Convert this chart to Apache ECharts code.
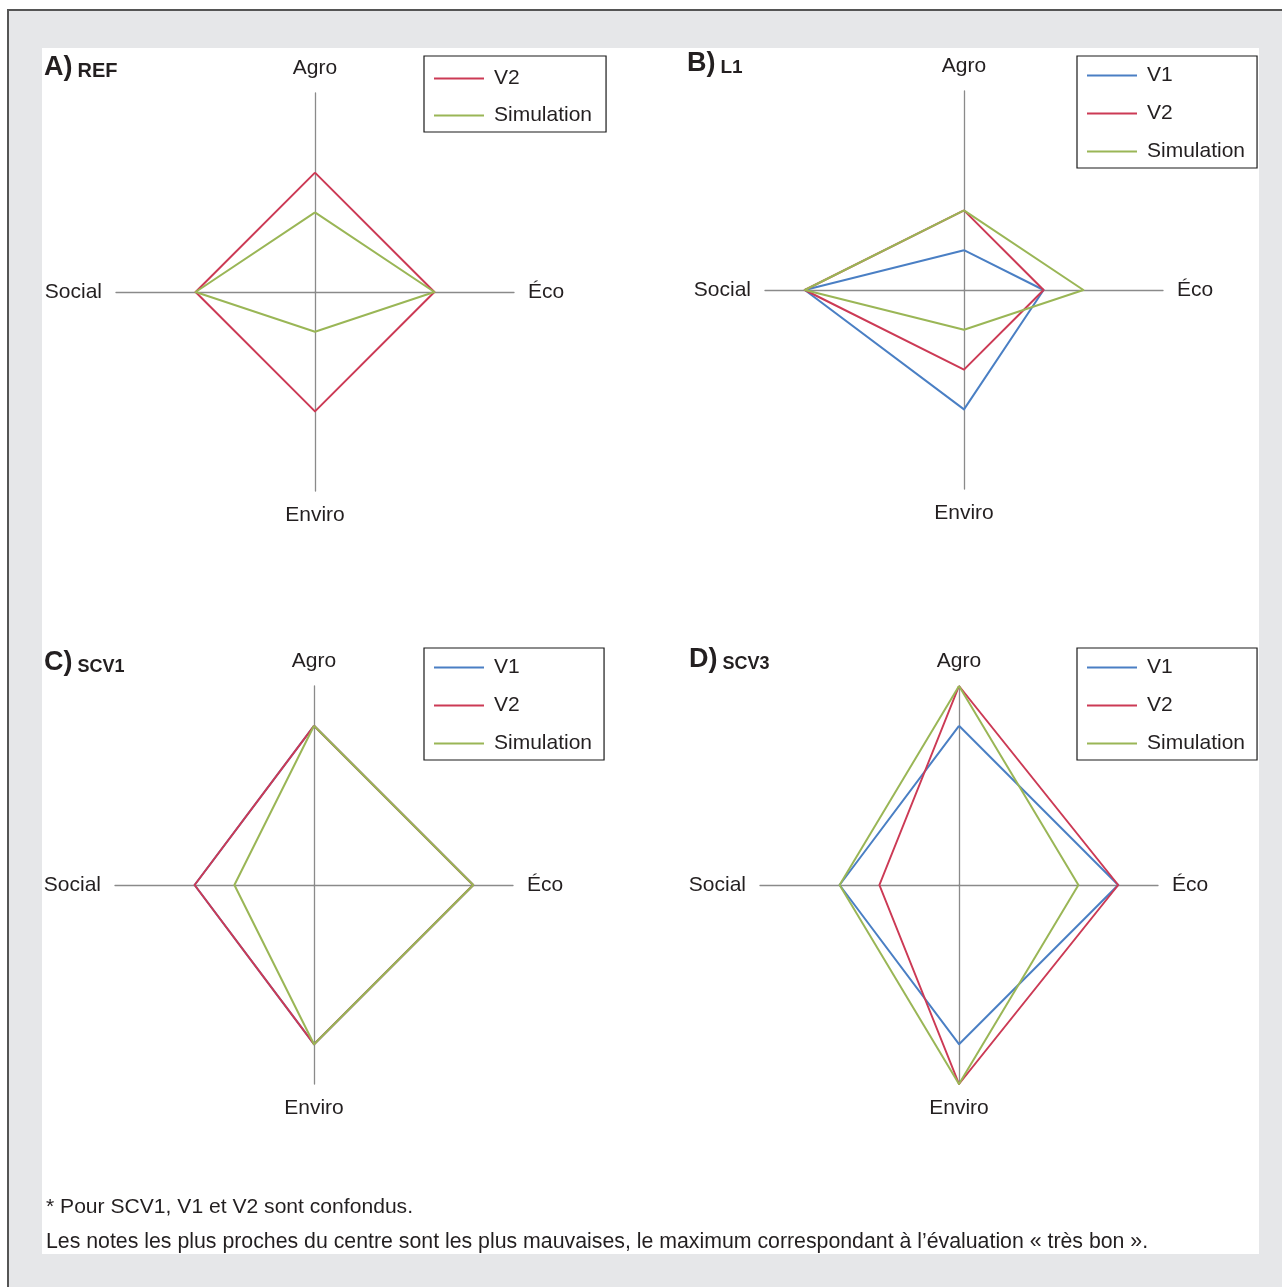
<!DOCTYPE html>
<html>
<head>
<meta charset="utf-8">
<script src="https://cdn.jsdelivr.net/npm/echarts@6/dist/echarts.min.js"></script>
<style>
html,body{margin:0;padding:0;background:#fff;}
#chart{width:1282px;height:1287px;}
</style>
</head>
<body>
<div id="chart"></div>
<script>
// Axes in ECharts (counter-clockwise) order starting at top
const categories = ['Agro', 'Social', 'Enviro', 'Éco'];
const maxScore = 5;

// Panel A) REF
const refV2 = [3, 3, 3, 3];
const refSimulation = [2, 3, 1, 3];
// Panel B) L1
const l1V1 = [1, 4, 3, 2];
const l1V2 = [2, 4, 2, 2];
const l1Simulation = [2, 4, 1, 3];
// Panel C) SCV1 (V1 and V2 coincide)
const scv1V1 = [4, 3, 4, 4];
const scv1V2 = [4, 3, 4, 4];
const scv1Simulation = [4, 2, 4, 4];
// Panel D) SCV3
const scv3V1 = [4, 3, 4, 4];
const scv3V2 = [5, 2, 5, 4];
const scv3Simulation = [5, 3, 5, 3];

const panelTitles = [['A)', 'REF'], ['B)', 'L1'], ['C)', 'SCV1'], ['D)', 'SCV3']];
const footnotes = [
  '* Pour SCV1, V1 et V2 sont confondus.',
  'Les notes les plus proches du centre sont les plus mauvaises, le maximum correspondant à l\u2019évaluation « très bon ».'
];

const COLORS = { V1: '#4a7fc4', V2: '#cc3a55', Simulation: '#9ab656' };
const FONT = '"Liberation Sans", Arial, Helvetica, sans-serif';
const TXT = '#231f20';

const centers = [[315, 292], [964, 290], [314, 885], [959, 885]];
const radius = 199;

function radar(center) {
  return {
    center: center,
    radius: radius,
    startAngle: 90,
    indicator: categories.map(n => ({ name: n, min: 0, max: maxScore })),
    shape: 'polygon',
    splitNumber: 5,
    axisName: { color: TXT, fontSize: 21, fontFamily: FONT },
    nameGap: 14,
    axisLine: { lineStyle: { color: '#8a8a8a', width: 1.3 } },
    splitLine: { show: false },
    splitArea: { show: false },
    axisTick: { show: false },
    axisLabel: { show: false }
  };
}

function series(name, idx, values) {
  return {
    type: 'radar',
    name: name,
    radarIndex: idx,
    symbol: 'none',
    lineStyle: { color: COLORS[name], width: 2 },
    itemStyle: { color: COLORS[name] },
    data: [{ value: values, name: name }],
    silent: true
  };
}

function legend(left, top, names, pad, gap) {
  return {
    orient: 'vertical',
    left: left,
    top: top,
    data: names,
    icon: 'rect',
    itemWidth: 50,
    itemHeight: 2,
    itemGap: gap,
    padding: pad,
    borderColor: '#1a1a1a',
    borderWidth: 1.2,
    backgroundColor: '#fff',
    selectedMode: false,
    textStyle: { color: TXT, fontSize: 21, fontFamily: FONT, padding: [0, 0, 0, 5] }
  };
}

const titlePos = [[44, 54], [687, 50], [44, 649], [689, 646]];
const titleSizes = [20, 19, 18, 18];

const option = {
  animation: false,
  backgroundColor: '#fff',
  graphic: [
    { type: 'rect', z: -10, shape: { x: 8, y: 10, width: 1300, height: 1300 },
      style: { fill: '#e6e7e9', stroke: '#555', lineWidth: 2 } },
    { type: 'rect', z: -9, shape: { x: 42, y: 48, width: 1217, height: 1206 },
      style: { fill: '#fff' } },
    { type: 'text', left: 46, top: 1197, z: 5,
      style: { text: footnotes[0], fill: TXT, font: '21.1px ' + FONT } },
    { type: 'text', left: 46, top: 1232, z: 5,
      style: { text: footnotes[1], fill: TXT, font: '21.3px ' + FONT } }
  ],
  title: panelTitles.map((t, i) => ({
    text: '{a|' + t[0] + '} {b|' + t[1] + '}',
    left: titlePos[i][0],
    top: titlePos[i][1],
    padding: 0,
    textStyle: {
      rich: {
        a: { fontSize: 27, lineHeight: 27, fontWeight: 'bold', color: TXT, fontFamily: FONT, verticalAlign: 'bottom' },
        b: { fontSize: titleSizes[i], lineHeight: titleSizes[i], fontWeight: 'bold', color: TXT, fontFamily: FONT, verticalAlign: 'bottom' }
      }
    }
  })),
  legend: [
    legend(424, 56, ['V2', 'Simulation'], [12, 14, 6, 10], 16),
    legend(1077, 56, ['V1', 'V2', 'Simulation'], [9, 12, 6, 10], 17),
    legend(424, 648, ['V1', 'V2', 'Simulation'], [9, 12, 6, 10], 17),
    legend(1077, 648, ['V1', 'V2', 'Simulation'], [9, 12, 6, 10], 17)
  ],
  radar: centers.map(c => radar(c)),
  series: [
    series('V2', 0, refV2),
    series('Simulation', 0, refSimulation),
    series('V1', 1, l1V1),
    series('V2', 1, l1V2),
    series('Simulation', 1, l1Simulation),
    series('V1', 2, scv1V1),
    series('V2', 2, scv1V2),
    series('Simulation', 2, scv1Simulation),
    series('V1', 3, scv3V1),
    series('V2', 3, scv3V2),
    series('Simulation', 3, scv3Simulation)
  ]
};

const chart = echarts.init(document.getElementById('chart'), null, { renderer: 'canvas' });
chart.setOption(option);
</script>
</body>
</html>
